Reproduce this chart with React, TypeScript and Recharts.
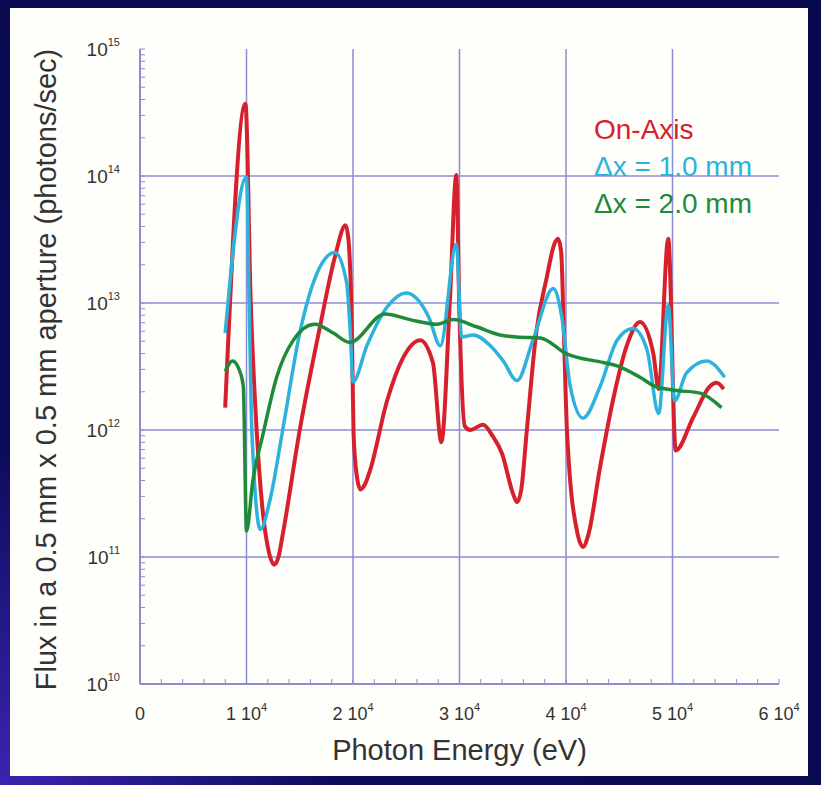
import { LineChart, Line, XAxis, YAxis, ReferenceLine, Legend, Label } from 'recharts'

// [photon energy (eV), flux (photons/sec)]
const ON_AXIS: [number, number][] = [
  [8000, 1.5e12], [9900, 3.7e14], [10400, 1.0e13], [10950, 1.0e12], [11500, 2.4e11],
  [12000, 1.2e11], [12600, 8.7e10], [13000, 1.0e11], [13400, 1.5e11], [15000, 1.0e12],
  [16900, 6.5e12], [18300, 2.3e13], [19300, 4.1e13], [19550, 3.3e13], [19900, 5.8e12],
  [20050, 9.5e11], [20350, 4.4e11], [20700, 3.4e11], [21100, 3.7e11], [21600, 4.8e11],
  [23200, 1.7e12], [24700, 3.7e12], [26300, 5.1e12], [27500, 3.4e12], [28300, 8.0e11],
  [29100, 1.05e13], [29700, 1.02e14], [30000, 7.8e12], [30500, 1.07e12], [31000, 1.0e12],
  [32200, 1.1e12], [33100, 9.0e11], [34000, 6.5e11], [35000, 3.2e11], [35400, 2.7e11],
  [35800, 3.4e11], [36300, 9.5e11], [37200, 5.8e12], [38200, 1.6e13], [38900, 2.9e13],
  [39250, 3.2e13], [39550, 2.5e13], [39800, 5.8e12], [40100, 9.5e11], [41100, 1.5e11],
  [41600, 1.2e11], [42100, 1.5e11], [43200, 5.1e11], [44400, 1.7e12], [45700, 4.6e12],
  [46950, 7.1e12], [48200, 4.0e12], [48700, 2.1e12], [49600, 3.2e13], [50300, 6.9e11],
  [51950, 1.26e12], [53500, 2.2e12], [54150, 2.35e12], [54800, 2.1e12],
]

const OFFSET_1MM: [number, number][] = [
  [8000, 5.8e12], [10000, 9.8e13], [10250, 1.0e13], [10500, 1.0e12], [11300, 1.65e11],
  [12200, 2.8e11], [13400, 1.0e12], [15000, 5.8e12], [16600, 1.7e13], [18300, 2.5e13],
  [19400, 1.45e13], [19750, 5.8e12], [20000, 2.4e12], [21300, 4.6e12], [23200, 9.3e12],
  [25000, 1.2e13], [27100, 7.8e12], [28200, 4.6e12], [29700, 2.9e13], [30200, 5.4e12],
  [31300, 5.6e12], [32900, 4.6e12], [34100, 3.5e12], [35400, 2.45e12], [36900, 5.1e12],
  [38800, 1.3e13], [39600, 7.8e12], [40400, 2.2e12], [41600, 1.24e12], [43200, 2.2e12],
  [44800, 5.1e12], [46300, 6.3e12], [47600, 4.3e12], [48700, 1.35e12], [49600, 9.6e12],
  [50200, 1.7e12], [51300, 2.8e12], [53200, 3.5e12], [54900, 2.6e12],
]

const OFFSET_2MM: [number, number][] = [
  [8000, 2.9e12], [8700, 3.5e12], [9300, 3.0e12], [9700, 2.2e12], [10000, 1.6e11],
  [10600, 4.0e11], [11580, 9.5e11], [12830, 2.6e12], [14400, 5.1e12], [16400, 6.8e12],
  [18150, 5.8e12], [19700, 4.9e12], [23000, 8.2e12], [25350, 7.4e12], [27900, 6.8e12],
  [29400, 7.4e12], [31600, 6.5e12], [33800, 5.6e12], [35400, 5.4e12], [37600, 5.3e12],
  [40000, 4.0e12], [43500, 3.4e12], [44800, 3.2e12], [46950, 2.6e12], [48400, 2.2e12],
  [50400, 2.05e12], [52600, 1.95e12], [54600, 1.5e12],
]

const X_GRID = [10000, 20000, 30000, 40000, 50000]
const Y_GRID = [1e11, 1e12, 1e13, 1e14]
const DECADES = [10, 11, 12, 13, 14]

// minor ticks every 2000 eV, log minor ticks 1..9 per decade
const X_TICKS = Array.from({ length: 31 }, (_, i) => i * 2000)
const Y_TICKS = [...DECADES.flatMap(d => [1, 2, 3, 4, 5, 6, 7, 8, 9].map(m => m * 10 ** d)), 1e15]

const RED = '#d6202c'
const CYAN = '#2cb2dc'
const GREEN = '#1f8a3a'
const GRID = '#8c8cd6'
const FONT = '"Liberation Sans", Arial, sans-serif'

const toPoints = (rows: [number, number][]) => rows.map(([e, flux]) => ({ e, flux }))

const Nothing = () => <g />

function YTick({ x, y, payload }: any) {
  const v = payload.value as number
  const exp = Math.round(Math.log10(v))
  if (Math.abs(v - 10 ** exp) > v * 1e-6) return <g />
  return (
    <text x={x} y={y + 7} textAnchor="end" fill="#333" fontSize={19} fontFamily={FONT}>
      10<tspan dy={-10} fontSize={11}>{exp}</tspan>
    </text>
  )
}

function XTick({ x, y, payload }: any) {
  const v = payload.value as number
  if (v % 10000 !== 0) return <g />
  return (
    <text x={x} y={y} textAnchor="middle" fill="#333" fontSize={18} fontFamily={FONT}>
      {v === 0 ? '0' : (
        <>
          {`${v / 10000} 10`}
          <tspan dy={-9} fontSize={11}>4</tspan>
        </>
      )}
    </text>
  )
}

function LegendText({ payload }: any) {
  return (
    <div style={{ fontFamily: FONT, fontSize: 28, lineHeight: '37px' }}>
      {payload.map((p: any) => (
        <div key={p.value} style={{ color: p.color }}>{p.value}</div>
      ))}
    </div>
  )
}

export default function App() {
  return (
    <div style={{
      position: 'absolute', left: 0, top: 0, width: 821, height: 785, overflow: 'hidden',
      backgroundColor: '#09094f',
      backgroundImage: 'radial-gradient(circle at 0% 100%, #3a24b0 0%, #0c0b5a 30%, #08084c 100%)',
    }}>
      <div style={{ position: 'absolute', left: 10, top: 8, width: 798, height: 768, backgroundColor: '#fefefb' }} />
      <div style={{ position: 'absolute', left: 0, top: 0 }}>
        <LineChart width={821} height={785} margin={{ top: 49, right: 42, bottom: 41, left: 80 }}>
          <XAxis
            dataKey="e" type="number" domain={[0, 60000]} ticks={X_TICKS} interval={0}
            height={60} tickSize={-5} tickMargin={41} tick={<XTick />}
            axisLine={{ stroke: GRID, strokeWidth: 2 }} tickLine={{ stroke: GRID }}
          >
            <Label content={({ viewBox }: any) => (
              <text x={viewBox.x + viewBox.width / 2} y={viewBox.y + 76} textAnchor="middle"
                fill="#333" fontSize={29} fontFamily={FONT}>Photon Energy (eV)</text>
            )} />
          </XAxis>
          <XAxis
            xAxisId="top" orientation="top" type="number" domain={[0, 60000]} ticks={X_TICKS}
            interval={0} height={0} tickSize={-5} tick={Nothing}
            axisLine={{ stroke: GRID, strokeWidth: 2 }} tickLine={{ stroke: GRID }}
          />
          <YAxis
            type="number" scale="log" domain={[1e10, 1e15]} allowDataOverflow ticks={Y_TICKS}
            interval={0} width={60} tickSize={-5} tickMargin={25} tick={<YTick />}
            axisLine={{ stroke: GRID, strokeWidth: 2 }} tickLine={{ stroke: GRID }}
          >
            <Label content={({ viewBox }: any) => {
              const cx = 56
              const cy = viewBox.y + viewBox.height / 2 + 3
              return (
                <text x={cx} y={cy} transform={`rotate(-90 ${cx} ${cy})`} textAnchor="middle"
                  fill="#333" fontSize={29} fontFamily={FONT}>
                  Flux in a 0.5 mm x 0.5 mm aperture (photons/sec)
                </text>
              )
            }} />
          </YAxis>
          <YAxis
            yAxisId="right" orientation="right" type="number" scale="log" domain={[1e10, 1e15]}
            allowDataOverflow ticks={Y_TICKS} interval={0} width={0} tickSize={-5} tick={Nothing}
            axisLine={{ stroke: GRID, strokeWidth: 2 }} tickLine={{ stroke: GRID }}
          />

          {X_GRID.map(v => <ReferenceLine key={`x${v}`} x={v} stroke={GRID} strokeWidth={1.5} />)}
          {Y_GRID.map(v => <ReferenceLine key={`y${v}`} y={v} stroke={GRID} strokeWidth={1.5} />)}

          <Line data={toPoints(ON_AXIS)} dataKey="flux" name="On-Axis" type="monotone"
            stroke={RED} strokeWidth={4} dot={false} isAnimationActive={false} />
          <Line data={toPoints(OFFSET_1MM)} dataKey="flux" name="Δx = 1.0 mm" type="monotone"
            stroke={CYAN} strokeWidth={3.5} dot={false} isAnimationActive={false} />
          <Line data={toPoints(OFFSET_2MM)} dataKey="flux" name="Δx = 2.0 mm" type="monotone"
            stroke={GREEN} strokeWidth={3.5} dot={false} isAnimationActive={false} />

          <Legend layout="vertical" align="center" verticalAlign="middle" content={<LegendText />}
            wrapperStyle={{ left: 594, top: 111, width: 215, height: 'auto' }} />
        </LineChart>
      </div>
    </div>
  )
}
